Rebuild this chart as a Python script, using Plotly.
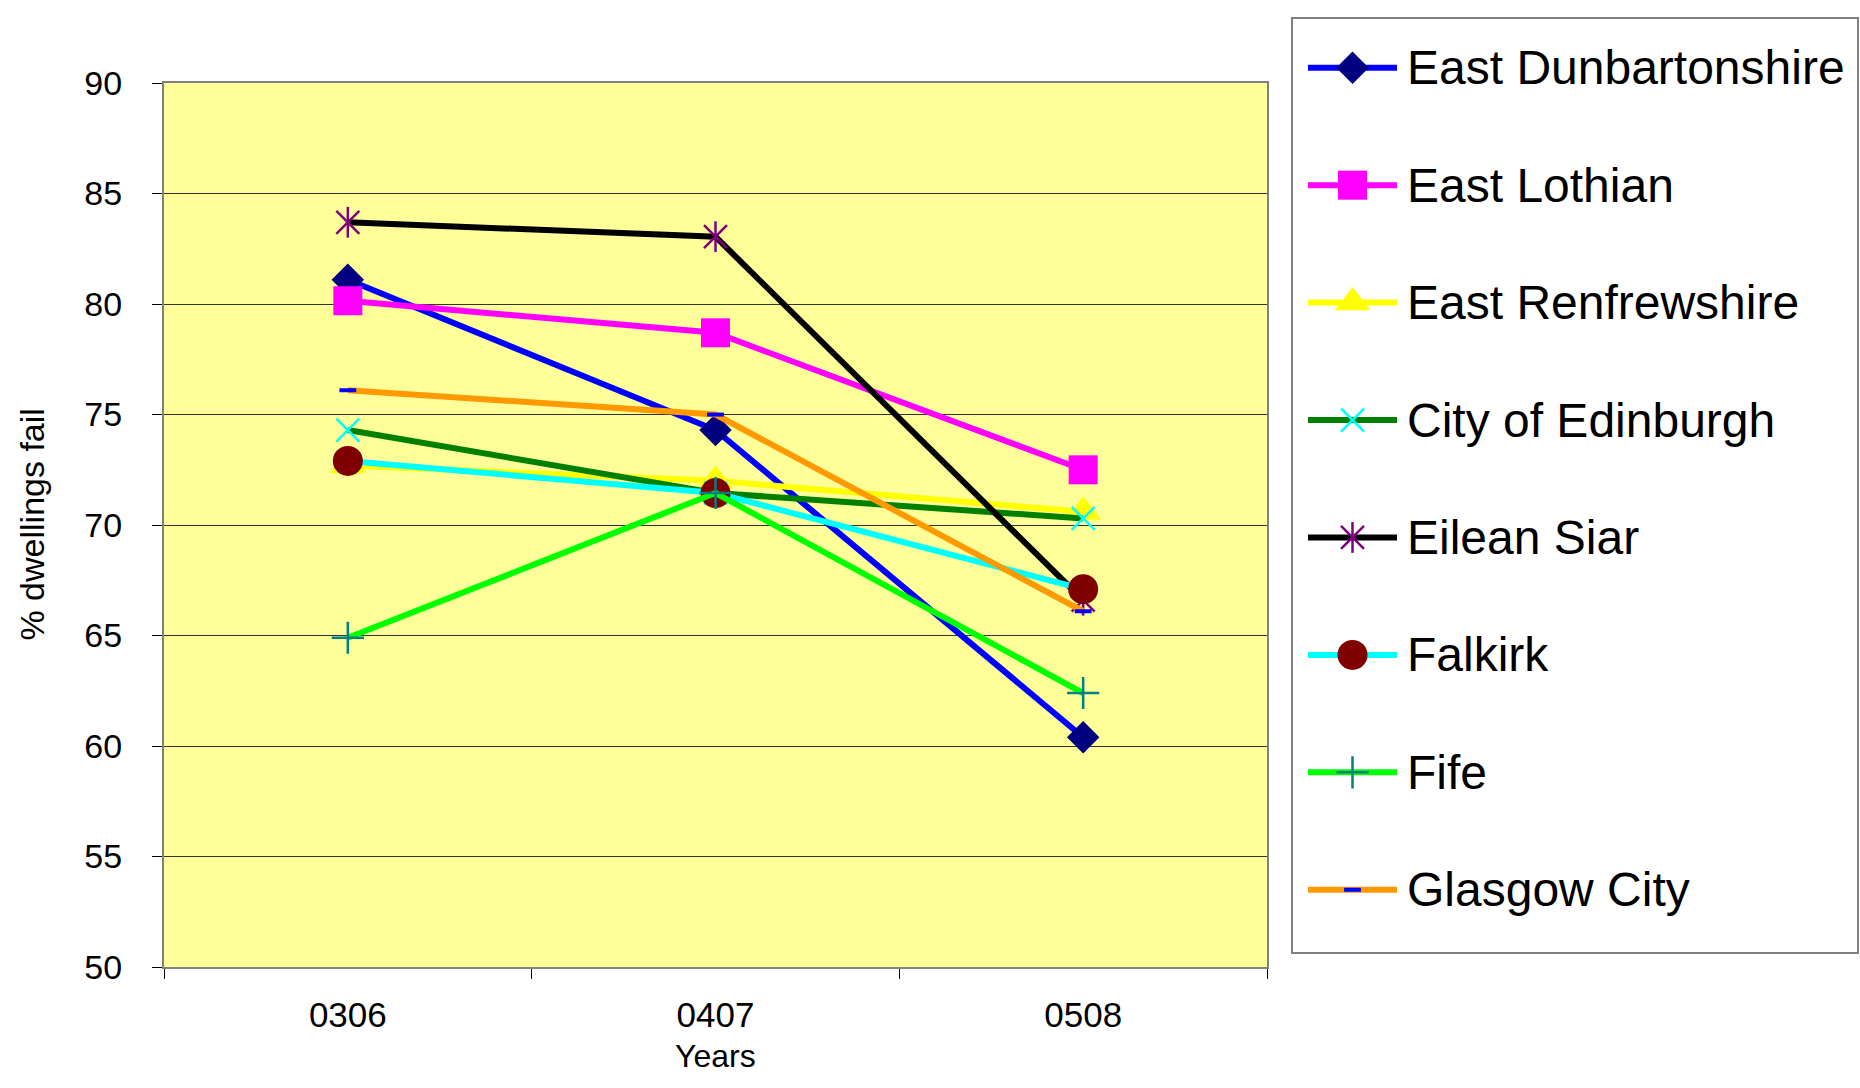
import plotly.graph_objects as go

# ---- data -------------------------------------------------------------
years = ["0306", "0407", "0508"]

east_dunbartonshire = [81.1, 74.3, 60.4]
east_lothian = [80.15, 78.7, 72.5]
east_renfrewshire = [72.7, 72.0, 70.6]
city_of_edinburgh = [74.3, 71.45, 70.3]
eilean_siar = [83.7, 83.05, 66.6]
falkirk = [72.9, 71.45, 67.1]
fife = [64.9, 71.45, 62.4]
glasgow_city = [76.1, 75.0, 66.1]

series_names = [
    "East Dunbartonshire", "East Lothian", "East Renfrewshire",
    "City of Edinburgh", "Eilean Siar", "Falkirk", "Fife", "Glasgow City",
]
series_values = [
    east_dunbartonshire, east_lothian, east_renfrewshire, city_of_edinburgh,
    eilean_siar, falkirk, fife, glasgow_city,
]
y_ticks = [50, 55, 60, 65, 70, 75, 80, 85, 90]

# ---- styling ----------------------------------------------------------
FONT = "Liberation Sans, Arial, sans-serif"
LINE_W = 6


def filled(symbol, size, color):
    return dict(symbol=symbol, size=size, color=color, line=dict(width=0))


def thin(symbol, size, color, width=2.5):
    return dict(symbol=symbol, size=size, color=color,
                line=dict(width=width, color=color))


styles = [
    ("#0000FF", [filled("diamond", 25, "#000080")]),
    ("#FF00FF", [filled("square", 29, "#FF00FF")]),
    ("#FFFF00", [filled("triangle-up", 31, "#FFFF00")]),
    ("#008000", [thin("x-thin-open", 23, "#00FFFF")]),
    ("#000000", [thin("x-thin-open", 23, "#800080"),
                 thin("line-ns-open", 22, "#800080")]),
    ("#00FFFF", [filled("circle", 30, "#800000")]),
    ("#00FF00", [thin("cross-thin-open", 23, "#008080")]),
    ("#FF9900", [thin("line-ew-open", 12, "#0000FF", width=4)]),
]

# ---- page geometry ----------------------------------------------------
# Positions are given in displayed page pixels and converted to paper
# fractions; the figure shows TOP_PAD px down, at SCALE_Y vertical scale.
W, H = 1860, 1088
TOP_PAD, SCALE_Y = 19, 0.964
PLOT_L, PLOT_R, PLOT_T, PLOT_B = 164, 1267, 83, 966
LEG_L, LEG_R, LEG_T, LEG_B = 1293, 1857, 19, 951


def fx(p):
    return p / W


def fy(p):
    return 1 - (p - TOP_PAD) / SCALE_Y / H


fig = go.Figure()

# plot area fill (kept under the gridlines)
fig.add_shape(type="rect", xref="x domain", yref="y domain",
              x0=0, x1=1, y0=0, y1=1, fillcolor="#FFFF99",
              line=dict(width=0), layer="below")

# chart series
for name, vals, (lc, markers) in zip(series_names, series_values, styles):
    fig.add_trace(go.Scatter(
        x=years, y=vals, mode="lines+markers", name=name,
        line=dict(color=lc, width=LINE_W), marker=markers[0],
        showlegend=False, cliponaxis=False,
    ))
    for m in markers[1:]:
        fig.add_trace(go.Scatter(
            x=years, y=vals, mode="markers", marker=m,
            showlegend=False, hoverinfo="skip", cliponaxis=False,
        ))

# legend panel drawn on its own pixel-scaled axes
LEG_ROW0, LEG_STEP = 67.7, 117.3
KEY_X0, KEY_X1, KEY_MID, TEXT_X = 15, 104, 59.5, 112
for i, (name, (lc, markers)) in enumerate(zip(series_names, styles)):
    ry = LEG_ROW0 + i * LEG_STEP
    fig.add_trace(go.Scatter(
        x=[KEY_X0, KEY_X1], y=[ry, ry], mode="lines", xaxis="x2", yaxis="y2",
        line=dict(color=lc, width=LINE_W), showlegend=False, hoverinfo="skip",
    ))
    for m in markers:
        fig.add_trace(go.Scatter(
            x=[KEY_MID], y=[ry], mode="markers", xaxis="x2", yaxis="y2",
            marker=m, showlegend=False, hoverinfo="skip", cliponaxis=False,
        ))
    fig.add_annotation(
        x=TEXT_X, y=ry, xref="x2", yref="y2", text=name, showarrow=False,
        xanchor="left", yanchor="middle",
        font=dict(family=FONT, size=48, color="#000000"),
    )

# axis titles
fig.add_annotation(
    x=fx(32), y=fy(524), xref="paper", yref="paper",
    text="% dwellings fail", textangle=-90, showarrow=False,
    xanchor="center", yanchor="middle",
    font=dict(family=FONT, size=34, color="#000000"),
)
fig.add_annotation(
    x=fx((PLOT_L + PLOT_R) / 2), y=fy(1074), xref="paper", yref="paper",
    text="Years", showarrow=False, xanchor="center", yanchor="bottom",
    borderpad=0, font=dict(family=FONT, size=32, color="#000000"),
)

fig.update_layout(
    width=W, height=H, autosize=False,
    margin=dict(l=0, r=0, t=0, b=0),
    paper_bgcolor="#FFFFFF", plot_bgcolor="#FFFFFF",
    showlegend=False,
    xaxis=dict(
        domain=[fx(PLOT_L), fx(PLOT_R)], type="category",
        categoryorder="array", categoryarray=years, range=[-0.5, 2.5],
        tickson="boundaries", ticks="outside", ticklen=10, tickcolor="#000000",
        tickwidth=1, showline=True, linecolor="#808080", linewidth=2,
        mirror=True, showgrid=False, zeroline=False,
        tickfont=dict(family=FONT, size=35, color="#000000"),
        ticklabelstandoff=16, fixedrange=True,
    ),
    yaxis=dict(
        domain=[fy(PLOT_B), fy(PLOT_T)], range=[50, 90],
        tickmode="array", tickvals=y_ticks, ticktext=[str(v) for v in y_ticks],
        ticks="outside", ticklen=10, tickcolor="#000000", tickwidth=1,
        showline=True, linecolor="#808080", linewidth=2, mirror=True,
        showgrid=True, gridcolor="#333333", gridwidth=1, zeroline=False,
        tickfont=dict(family=FONT, size=34, color="#000000"),
        ticklabelstandoff=23, fixedrange=True,
    ),
    xaxis2=dict(
        domain=[fx(LEG_L), fx(LEG_R)], range=[0, LEG_R - LEG_L], anchor="y2",
        showline=True, linecolor="#808080", linewidth=1.5, mirror=True,
        showgrid=False, zeroline=False, showticklabels=False, ticks="",
        fixedrange=True,
    ),
    yaxis2=dict(
        domain=[fy(LEG_B), min(1.0, fy(LEG_T))], range=[LEG_B, LEG_T],
        anchor="x2", showline=True, linecolor="#808080", linewidth=1.5,
        mirror=True, showgrid=False, zeroline=False, showticklabels=False,
        ticks="", fixedrange=True,
    ),
)

fig.write_html("out.html")
